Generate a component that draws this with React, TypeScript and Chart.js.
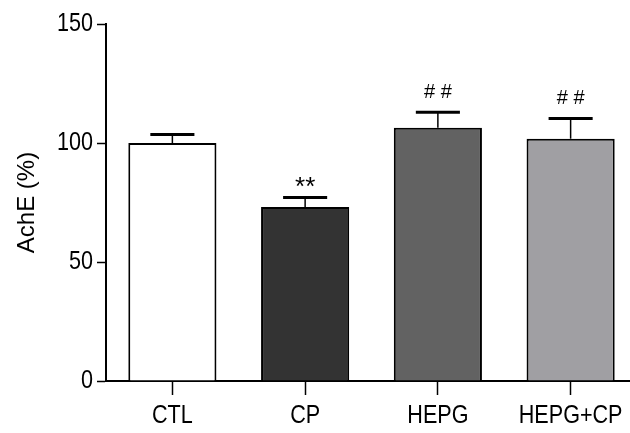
import React, { useEffect, useRef } from 'react';
import { Chart, registerables } from 'chart.js';

Chart.register(...registerables);

const categories = ['CTL', 'CP', 'HEPG', 'HEPG+CP'];
const means = [100, 73.1, 106.4, 101.8];
const sems = [3.6, 4.0, 6.5, 8.5];
const marks = ['', '**', '# #', '# #'];
const yTickValues = [0, 50, 100, 150];
const yTitle = 'AchE (%)';
const barColors = ['#ffffff', '#333333', '#626262', '#a09fa3'];

const FONT = '"Liberation Sans", Arial, sans-serif';
const NARROW = 0.83;

const errorBarPlugin = {
  id: 'errorBars',
  afterDatasetsDraw(chart: any) {
    const ctx = chart.ctx;
    const meta = chart.getDatasetMeta(0);
    const y = chart.scales.y;
    ctx.save();
    ctx.strokeStyle = '#000';
    ctx.fillStyle = '#000';
    meta.data.forEach((bar: any, i: number) => {
      const x = bar.x;
      const top = y.getPixelForValue(means[i]);
      const capY = y.getPixelForValue(means[i] + sems[i]);
      const half = bar.width / 4;
      ctx.lineWidth = 1.5;
      ctx.beginPath();
      ctx.moveTo(x, top);
      ctx.lineTo(x, capY);
      ctx.stroke();
      ctx.lineWidth = 3;
      ctx.beginPath();
      ctx.moveTo(x - half, capY);
      ctx.lineTo(x + half, capY);
      ctx.stroke();
      const m = marks[i];
      if (m) {
        ctx.textAlign = 'center';
        ctx.textBaseline = 'alphabetic';
        if (m.includes('*')) {
          ctx.font = `26px ${FONT}`;
          ctx.fillText(m, x, capY - 3);
        } else {
          ctx.font = `20px ${FONT}`;
          ctx.fillText(m, x, capY - 14);
        }
      }
    });
    ctx.restore();
  },
};

const labelPlugin = {
  id: 'narrowLabels',
  afterDraw(chart: any) {
    const ctx = chart.ctx;
    const xs = chart.scales.x;
    const ys = chart.scales.y;
    const area = chart.chartArea;
    ctx.save();
    ctx.fillStyle = '#000';
    ctx.font = `26px ${FONT}`;
    ctx.textAlign = 'center';
    ctx.textBaseline = 'alphabetic';
    categories.forEach((c, i) => {
      const x = xs.getPixelForValue(i);
      ctx.save();
      ctx.translate(x, xs.top + 42);
      ctx.scale(NARROW, 1);
      ctx.fillText(c, 0, 0);
      ctx.restore();
    });
    ctx.textAlign = 'right';
    yTickValues.forEach((v) => {
      const y = ys.getPixelForValue(v);
      ctx.save();
      ctx.translate(area.left - 13, y + 6.5);
      ctx.scale(NARROW, 1);
      ctx.fillText(String(v), 0, 0);
      ctx.restore();
    });
    ctx.save();
    ctx.font = `24px ${FONT}`;
    ctx.textAlign = 'center';
    ctx.textBaseline = 'middle';
    ctx.translate(27, (area.top + area.bottom) / 2);
    ctx.rotate(-Math.PI / 2);
    ctx.fillText(yTitle, 0, 0);
    ctx.restore();
    ctx.restore();
  },
};

export default function App() {
  const ref = useRef<HTMLCanvasElement | null>(null);
  useEffect(() => {
    if (!ref.current) return;
    const chart = new Chart(ref.current, {
      type: 'bar',
      data: {
        labels: categories,
        datasets: [
          {
            data: means,
            backgroundColor: barColors,
            borderColor: '#000',
            borderWidth: 2,
            categoryPercentage: 1,
            barPercentage: 0.664,
          },
        ],
      },
      options: {
        responsive: false,
        animation: false,
        devicePixelRatio: 1,
        layout: { padding: { top: 24, right: 3, left: 0, bottom: 0 } },
        plugins: { legend: { display: false }, tooltip: { enabled: false } },
        scales: {
          x: {
            grid: {
              offset: false,
              drawOnChartArea: false,
              drawTicks: true,
              tickLength: 14,
              tickColor: '#000',
              tickWidth: 1.5,
            },
            border: { display: true, color: '#000', width: 2 },
            ticks: { display: false, autoSkip: false },
            afterFit: (s: any) => {
              s.height = 52;
            },
          },
          y: {
            min: 0,
            max: 150,
            afterBuildTicks: (s: any) => {
              s.ticks = yTickValues.map((v) => ({ value: v }));
            },
            grid: {
              drawOnChartArea: false,
              drawTicks: true,
              tickLength: 9,
              tickColor: '#000',
              tickWidth: 1.5,
            },
            border: { display: true, color: '#000', width: 2 },
            ticks: { display: false },
            title: { display: false },
            afterFit: (s: any) => {
              s.width = 106;
            },
          },
        },
      },
      plugins: [errorBarPlugin, labelPlugin],
    });
    return () => chart.destroy();
  }, []);
  return (
    <div
      style={{
        position: 'fixed',
        left: 0,
        top: 0,
        width: 630,
        height: 433,
        overflow: 'hidden',
        background: '#fff',
      }}
    >
      <canvas ref={ref} width={640} height={433} style={{ display: 'block' }} />
    </div>
  );
}
